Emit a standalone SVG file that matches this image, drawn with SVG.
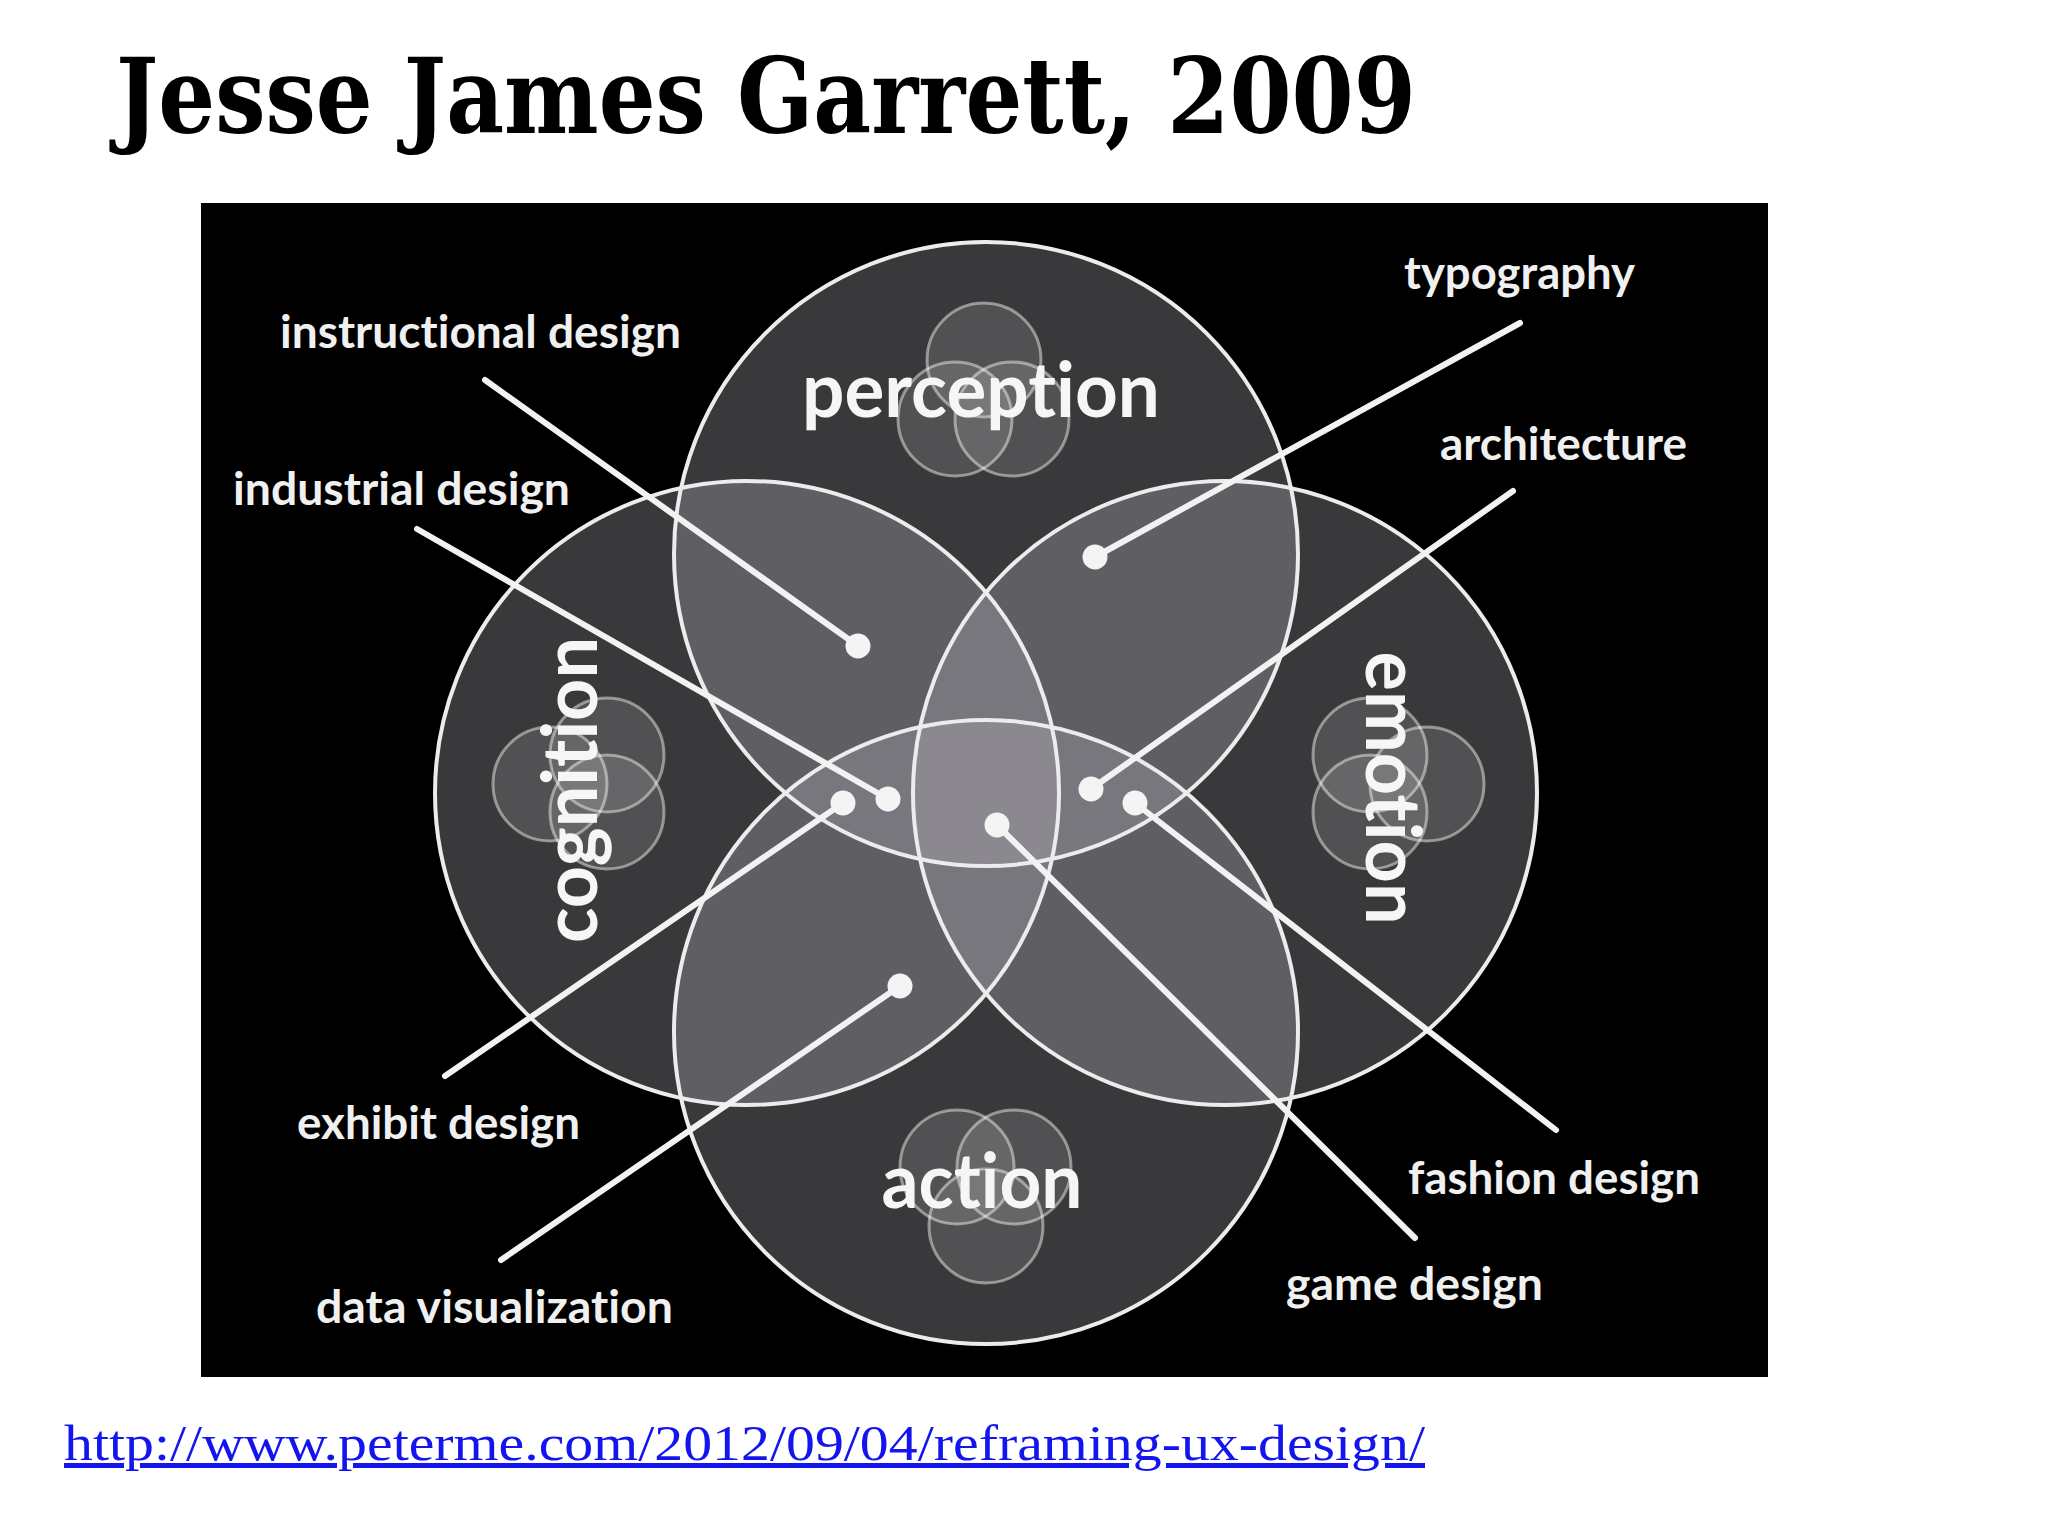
<svg xmlns="http://www.w3.org/2000/svg" xmlns:xlink="http://www.w3.org/1999/xlink" width="2048" height="1536" viewBox="0 0 2048 1536">
<style>
.title{font-family:"DejaVu Serif","Liberation Serif",serif;font-weight:700;font-size:104px;fill:#000}
.url{font-family:"Liberation Serif","DejaVu Serif",serif;font-size:50px;fill:#1414ee;text-decoration:underline}
.fill{fill:#b0aeb8;fill-opacity:0.32}
.ring{fill:none;stroke:#ececec;stroke-width:4}
.ico{fill:#ffffff;fill-opacity:0.12;stroke:#ffffff;stroke-opacity:0.45;stroke-width:3}
.big{font-family:Lato,"Open Sans","DejaVu Sans",sans-serif;font-weight:700;font-size:76px;fill:#f6f6f6;font-variant-ligatures:none}
.lbl{font-family:Lato,"Open Sans","DejaVu Sans",sans-serif;font-weight:700;font-size:46px;fill:#f0f0f0;font-variant-ligatures:none}
.con{stroke:#f2f2f2;stroke-width:6;stroke-linecap:round;fill:none}
.dot{fill:#f4f4f4}
</style>
<rect x="0" y="0" width="2048" height="1536" fill="#ffffff"/>
<text class="title" x="116" y="133" textLength="1300" lengthAdjust="spacingAndGlyphs">Jesse James Garrett, 2009</text>
<rect x="201" y="203" width="1567" height="1174" fill="#000000"/>

<g id="circle-fills">
<circle class="fill" cx="986" cy="554" r="312"/>
<circle class="fill" cx="747" cy="793" r="312"/>
<circle class="fill" cx="1225" cy="793" r="312"/>
<circle class="fill" cx="986" cy="1032" r="312"/>
</g>

<g id="perception">
<circle class="ring" cx="986" cy="554" r="312"/>
<circle class="ico" cx="984" cy="360" r="57"/>
<circle class="ico" cx="955" cy="419" r="57"/>
<circle class="ico" cx="1012" cy="419" r="57"/>
<text class="big" x="981" y="417" text-anchor="middle" textLength="358" lengthAdjust="spacingAndGlyphs">perception</text>
</g>

<g id="cognition">
<circle class="ring" cx="747" cy="793" r="312"/>
<circle class="ico" cx="550" cy="784" r="57"/>
<circle class="ico" cx="607" cy="755" r="57"/>
<circle class="ico" cx="607" cy="812" r="57"/>
<text class="big" transform="translate(597,790) rotate(-90)" x="0" y="0" text-anchor="middle" textLength="306" lengthAdjust="spacingAndGlyphs">cognition</text>
</g>

<g id="emotion">
<circle class="ring" cx="1225" cy="793" r="312"/>
<circle class="ico" cx="1370" cy="755" r="57"/>
<circle class="ico" cx="1370" cy="812" r="57"/>
<circle class="ico" cx="1427" cy="784" r="57"/>
<text class="big" transform="translate(1366,788) rotate(90)" x="0" y="0" text-anchor="middle" textLength="273" lengthAdjust="spacingAndGlyphs">emotion</text>
</g>

<g id="action">
<circle class="ring" cx="986" cy="1032" r="312"/>
<circle class="ico" cx="957" cy="1167" r="57"/>
<circle class="ico" cx="1014" cy="1167" r="57"/>
<circle class="ico" cx="986" cy="1226" r="57"/>
<text class="big" x="982" y="1208" text-anchor="middle" textLength="201" lengthAdjust="spacingAndGlyphs">action</text>
</g>

<g id="connectors">
<line class="con" x1="485" y1="380" x2="858" y2="646"/><circle class="dot" cx="858" cy="646" r="12.5"/>
<line class="con" x1="417" y1="529" x2="888" y2="799"/><circle class="dot" cx="888" cy="799" r="12.5"/>
<line class="con" x1="1520" y1="323" x2="1095" y2="557"/><circle class="dot" cx="1095" cy="557" r="12.5"/>
<line class="con" x1="1513" y1="491" x2="1091" y2="789"/><circle class="dot" cx="1091" cy="789" r="12.5"/>
<line class="con" x1="445" y1="1076" x2="843" y2="803"/><circle class="dot" cx="843" cy="803" r="12.5"/>
<line class="con" x1="501" y1="1260" x2="900" y2="986"/><circle class="dot" cx="900" cy="986" r="12.5"/>
<line class="con" x1="1556" y1="1130" x2="1135" y2="803"/><circle class="dot" cx="1135" cy="803" r="12.5"/>
<line class="con" x1="1415" y1="1238" x2="997" y2="825"/><circle class="dot" cx="997" cy="825" r="12.5"/>
</g>

<g id="label-instructional-design"><text class="lbl" x="280" y="348" textLength="401" lengthAdjust="spacingAndGlyphs">instructional design</text></g>
<g id="label-industrial-design"><text class="lbl" x="233" y="505" textLength="337" lengthAdjust="spacingAndGlyphs">industrial design</text></g>
<g id="label-typography"><text class="lbl" x="1404" y="289" textLength="231" lengthAdjust="spacingAndGlyphs">typography</text></g>
<g id="label-architecture"><text class="lbl" x="1440" y="460" textLength="247" lengthAdjust="spacingAndGlyphs">architecture</text></g>
<g id="label-exhibit-design"><text class="lbl" x="297" y="1139" textLength="283" lengthAdjust="spacingAndGlyphs">exhibit design</text></g>
<g id="label-data-visualization"><text class="lbl" x="316" y="1323" textLength="357" lengthAdjust="spacingAndGlyphs">data visualization</text></g>
<g id="label-fashion-design"><text class="lbl" x="1408" y="1194" textLength="292" lengthAdjust="spacingAndGlyphs">fashion design</text></g>
<g id="label-game-design"><text class="lbl" x="1286" y="1300" textLength="257" lengthAdjust="spacingAndGlyphs">game design</text></g>

<text class="url" x="64" y="1460" textLength="1361" lengthAdjust="spacingAndGlyphs">http://www.peterme.com/2012/09/04/reframing-ux-design/</text>
</svg>
